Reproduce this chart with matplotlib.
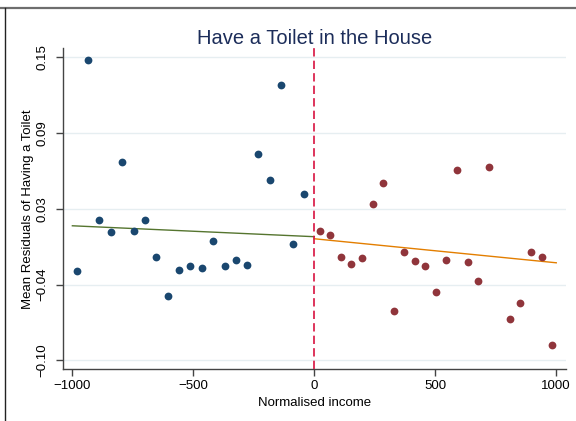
import numpy as np
import matplotlib
matplotlib.use('Agg')
import matplotlib.pyplot as plt
from matplotlib.lines import Line2D

plt.rcParams['font.family'] = ['Liberation Sans', 'DejaVu Sans']

# binned residuals, below cutoff (blue) and above cutoff (red)
left_x = [-982, -935, -889, -841, -794, -747, -700, -653, -606, -559, -512,
          -466, -418, -371, -325, -278, -231, -184, -136, -90, -43]
left_y = [-0.0264, 0.1473, 0.0154, 0.0058, 0.0634, 0.0068, 0.0154, -0.0146,
          -0.0468, -0.0256, -0.0221, -0.0242, -0.0019, -0.0221, -0.0171,
          -0.0217, 0.0698, 0.0486, 0.1269, -0.0042, 0.0371]
right_x = [22, 65, 110, 152, 197, 241, 284, 328, 371, 415, 458, 501, 545,
           589, 634, 677, 720, 808, 851, 895, 940, 982]
right_y = [0.0063, 0.0035, -0.0146, -0.0209, -0.0160, 0.0286, 0.0464,
           -0.0592, -0.0110, -0.0184, -0.0221, -0.0440, -0.0174, 0.0571,
           -0.0193, -0.0347, 0.0596, -0.0657, -0.0526, -0.0110, -0.0146,
           -0.0872]

# linear fits on each side
fit_left_x = [-1000, 0]
fit_left_y = [0.0109, 0.0019]
fit_right_x = [0, 1000]
fit_right_y = [0.0002, -0.0196]

yticks = np.linspace(-0.10, 0.15, 5)
ytick_labels = ['\u22120.10', '\u22120.04', '0.03', '0.09', '0.15']
xticks = [-1000, -500, 0, 500, 1000]

fig = plt.figure(figsize=(5.76, 4.21), dpi=100)
ax = fig.add_axes([62.7/576, 1 - 369.3/421, (565.7 - 62.7)/576, (369.3 - 48.3)/421])

for yt in yticks:
    ax.axhline(yt, color='#e6eef1', lw=1.0, zorder=0)

ax.plot(fit_left_x, fit_left_y, color='#55752f', lw=1.0, zorder=2)
ax.plot(fit_right_x, fit_right_y, color='#e37e00', lw=1.0, zorder=2)
ax.plot(left_x, left_y, 'o', color='#1a476f', ms=5.6, mew=0, zorder=3)
ax.plot(right_x, right_y, 'o', color='#90353b', ms=5.6, mew=0, zorder=3)
ax.axvline(0, color='#d8123f', lw=1.2, ls=(0, (5, 2.5)), zorder=4)

ax.set_xlim(-1040, 1039)
ax.set_ylim(-0.1074, 0.1572)
ax.set_xticks(xticks)
ax.set_xticklabels(['\u22121000', '\u2212500', '0', '500', '1000'])
ax.set_yticks(yticks)
ax.set_yticklabels(ytick_labels, rotation=90, va='center')

for s in ['top', 'right']:
    ax.spines[s].set_visible(False)
for s in ['left', 'bottom']:
    ax.spines[s].set_color('#444444')
    ax.spines[s].set_linewidth(1.0)
ax.tick_params(axis='both', direction='out', length=5, width=1.0,
               color='#444444', labelsize=9.5, labelcolor='black')
ax.tick_params(axis='x', pad=2.5)
ax.tick_params(axis='y', pad=5.5)

ax.set_xlabel('Normalised income', fontsize=9.5, labelpad=3.5)
ax.set_ylabel('Mean Residuals of Having a Toilet', fontsize=9.5, labelpad=1.5)
ax.set_title('Have a Toilet in the House', fontsize=14.5, color='#1c2d5a', pad=3)

# outer frame of the original graph region
fig.add_artist(Line2D([0, 1], [1 - 7.5/421, 1 - 7.5/421], color='#6e6e6e', lw=1.6))
fig.add_artist(Line2D([5/576, 5/576], [0, 1 - 7.5/421], color='#222222', lw=1.0))

fig.savefig('out.png', dpi=100)
